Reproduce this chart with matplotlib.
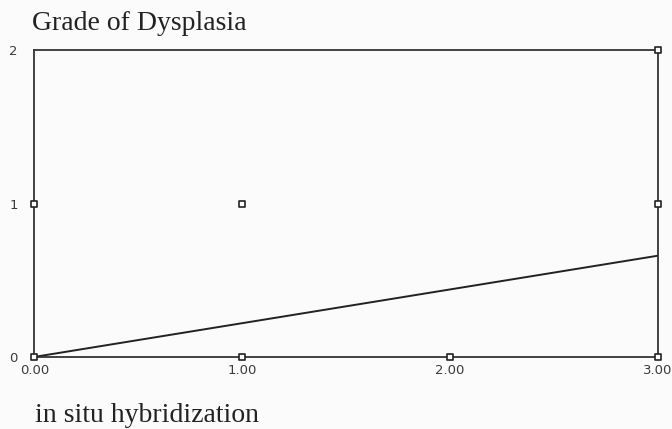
import matplotlib.pyplot as plt

# observed points (in situ hybridization score vs grade of dysplasia)
ish_score = [0, 0, 1, 1, 2, 3, 3, 3]
dysplasia = [0, 1, 1, 0, 0, 0, 1, 2]

# fitted line end values
fit_x = [0, 3]
fit_y = [0.0, 0.66]

x_ticks = [0, 1, 2, 3]
x_labels = ["0.00", "1.00", "2.00", "3.00"]
y_ticks = [0, 1, 2]


def main():
    fig = plt.figure(figsize=(6.72, 4.29), dpi=100, facecolor="#fbfbfb")
    ax = fig.add_axes([0.051, 0.168, 0.928, 0.715])
    ax.set_facecolor("#fbfbfb")

    ax.plot(fit_x, fit_y, color="#222222", lw=1.4)
    ax.scatter(ish_score, dysplasia, marker="s", s=18, facecolor="white",
               edgecolor="#222222", linewidth=1.2, zorder=3, clip_on=False)

    ax.set_xlim(0, 3)
    ax.set_ylim(0, 2)
    for side in ax.spines.values():
        side.set_color("#333333")
        side.set_linewidth(1.3)

    ax.set_xticks(x_ticks)
    ax.set_xticklabels(x_labels)
    ax.set_yticks(y_ticks)
    ax.tick_params(length=0, colors="#3a3a3a")
    ax.tick_params(axis="x", pad=5)
    ax.tick_params(axis="y", pad=12)
    for lbl in ax.get_xticklabels() + ax.get_yticklabels():
        lbl.set_family("DejaVu Sans")
        lbl.set_fontsize(9.5)

    fig.text(0.048, 0.930, "Grade of Dysplasia", family="Liberation Serif",
             fontsize=20, color="#222222", va="baseline")
    fig.text(0.052, 0.016, "in situ hybridization", family="Liberation Serif",
             fontsize=20, color="#222222", va="baseline")

    fig.savefig("out.png", dpi=100, facecolor=fig.get_facecolor())


if __name__ == "__main__":
    main()
